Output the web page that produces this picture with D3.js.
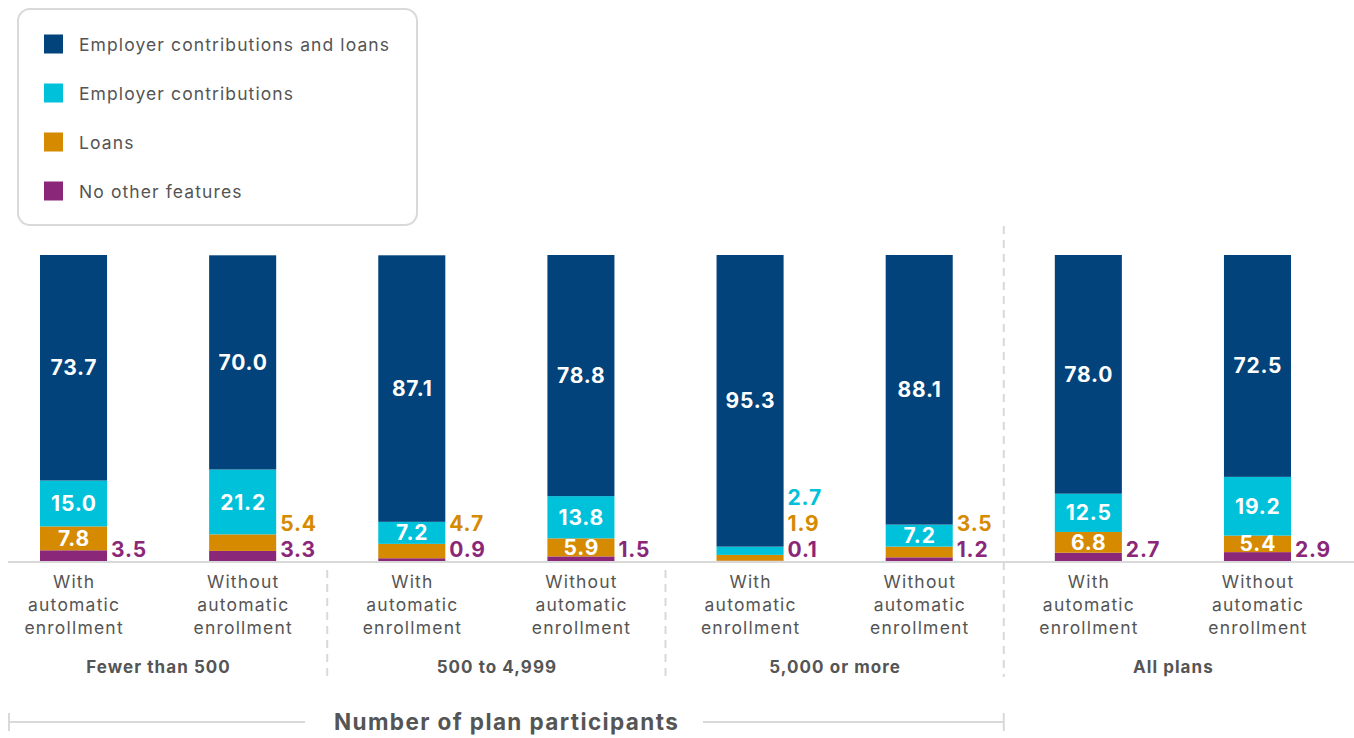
<!DOCTYPE html>
<html>
<head>
<meta charset="utf-8">
<script src="https://cdn.jsdelivr.net/npm/d3@7"></script>
<style>
  body { margin: 0; background: #fff; }
  svg { font-family: Inter, "Open Sans", sans-serif; }
</style>
</head>
<body>
<script>
// groups of plan size, and the two bars in each group
var groups = ["Fewer than 500", "500 to 4,999", "5,000 or more", "All plans"];
var subLabels = [["With", "automatic", "enrollment"], ["Without", "automatic", "enrollment"]];

// series values, one per bar (group x with/without)
var ecLoans = [73.7, 70.0, 87.1, 78.8, 95.3, 88.1, 78.0, 72.5];
var ec      = [15.0, 21.2, 7.2, 13.8, 2.7, 7.2, 12.5, 19.2];
var loans   = [7.8, 5.4, 4.7, 5.9, 1.9, 3.5, 6.8, 5.4];
var none    = [3.5, 3.3, 0.9, 1.5, 0.1, 1.2, 2.7, 2.9];

// labels written beside the bar instead of inside it
var outside = [["none"], ["none", "loans"], ["none", "loans"], ["none"],
               ["none", "loans", "ec"], ["none", "loans"], ["none"], ["none"]];

var seriesNames = {
  ecLoans: "Employer contributions and loans",
  ec: "Employer contributions",
  loans: "Loans",
  none: "No other features"
};
var colors = { ecLoans: "#01437a", ec: "#00c1da", loans: "#d58a00", none: "#8b2778" };
var keys = ["none", "loans", "ec", "ecLoans"]; // bottom to top

var width = 1354, height = 738;
var svg = d3.select("body").append("svg")
    .attr("width", width)
    .attr("height", height);

// build rows
var data = [];
groups.forEach(function(g, gi) {
  [0, 1].forEach(function(si) {
    var i = gi * 2 + si;
    data.push({ id: i, group: g, sub: si, ecLoans: ecLoans[i], ec: ec[i], loans: loans[i], none: none[i] });
  });
});

var x = d3.scaleBand()
    .domain(data.map(function(d) { return d.id; }))
    .range([40, 1291])
    .paddingInner(0.6036)
    .paddingOuter(0);

var y = d3.scaleLinear().domain([0, 100]).range([561, 255]);

var stack = d3.stack().keys(keys);
var series = stack(data);

// bars
svg.append("g").selectAll("g")
  .data(series)
  .enter().append("g")
    .attr("fill", function(s) { return colors[s.key]; })
  .selectAll("rect")
  .data(function(s) { return s; })
  .enter().append("rect")
    .attr("x", function(p) { return x(p.data.id); })
    .attr("y", function(p) { return y(p[1]); })
    .attr("width", x.bandwidth())
    .attr("height", function(p) { return y(p[0]) - y(p[1]); });

// inside labels
series.forEach(function(s) {
  s.forEach(function(p) {
    var v = p.data[s.key];
    if (outside[p.data.id].indexOf(s.key) >= 0) return;
    svg.append("text")
      .attr("x", x(p.data.id) + x.bandwidth() / 2 + 0.4)
      .attr("y", (y(p[0]) + y(p[1])) / 2)
      .attr("dy", "0.36em")
      .attr("text-anchor", "middle")
      .attr("fill", "#fff")
      .attr("font-size", 21)
      .attr("font-weight", 700)
      .attr("letter-spacing", 0.8)
      .text(v.toFixed(1));
  });
});

// outside labels, stacked up from the baseline
data.forEach(function(d) {
  outside[d.id].forEach(function(k, j) {
    svg.append("text")
      .attr("x", x(d.id) + x.bandwidth() + 4)
      .attr("y", y(0) - 12 - j * 26)
      .attr("dy", "0.36em")
      .attr("fill", colors[k])
      .attr("font-size", 21)
      .attr("font-weight", 700)
      .attr("letter-spacing", 0.8)
      .text(d[k].toFixed(1));
  });
});

// baseline
svg.append("line")
    .attr("x1", 8).attr("x2", width)
    .attr("y1", y(0) + 1).attr("y2", y(0) + 1)
    .attr("stroke", "#d9d9d9").attr("stroke-width", 2);

// bar labels
data.forEach(function(d) {
  var t = svg.append("text")
      .attr("text-anchor", "middle")
      .attr("fill", "#555")
      .attr("font-size", 17.5)
      .attr("letter-spacing", 1.2);
  subLabels[d.sub].forEach(function(line, li) {
    t.append("tspan")
      .attr("x", x(d.id) + x.bandwidth() / 2 + 0.6)
      .attr("y", 588 + li * 23)
      .text(line);
  });
});

// group labels
groups.forEach(function(g, gi) {
  var cx = (x(gi * 2) + x(gi * 2 + 1) + x.bandwidth()) / 2;
  svg.append("text")
    .attr("x", cx + 0.5)
    .attr("y", 673)
    .attr("text-anchor", "middle")
    .attr("fill", "#555")
    .attr("font-size", 17)
    .attr("font-weight", 700)
    .attr("letter-spacing", 1.05)
    .text(g);
});

// dashed separators between groups
var sepX = [1, 2, 3].map(function(gi) {
  return (x(gi * 2 - 1) + x.bandwidth() + x(gi * 2)) / 2;
});
sepX.forEach(function(sx, i) {
  svg.append("line")
    .attr("x1", sx).attr("x2", sx)
    .attr("y1", i === 2 ? 226 : 570)
    .attr("y2", 677)
    .attr("stroke", "#d9d9d9")
    .attr("stroke-width", 2)
    .attr("stroke-dasharray", "8,6");
});

// axis title with bracket
var bx0 = 8, bx1 = sepX[2], by = 722;
svg.append("line").attr("x1", bx0).attr("x2", 305).attr("y1", by).attr("y2", by)
    .attr("stroke", "#d9d9d9").attr("stroke-width", 2);
svg.append("line").attr("x1", 703).attr("x2", bx1).attr("y1", by).attr("y2", by)
    .attr("stroke", "#d9d9d9").attr("stroke-width", 2);
[bx0 + 1, bx1].forEach(function(ex) {
  svg.append("line").attr("x1", ex).attr("x2", ex).attr("y1", by - 9).attr("y2", by + 9)
    .attr("stroke", "#d9d9d9").attr("stroke-width", 2);
});
svg.append("text")
    .attr("x", (bx0 + bx1) / 2 + 0.7)
    .attr("y", by)
    .attr("dy", "0.36em")
    .attr("text-anchor", "middle")
    .attr("fill", "#555")
    .attr("font-size", 22.5)
    .attr("font-weight", 700)
    .attr("letter-spacing", 1.4)
    .text("Number of plan participants");

// legend
var legend = svg.append("g");
legend.append("rect")
    .attr("x", 18).attr("y", 9)
    .attr("width", 399).attr("height", 216)
    .attr("rx", 12)
    .attr("fill", "#fff")
    .attr("stroke", "#d9d9d9")
    .attr("stroke-width", 2);
keys.slice().reverse().forEach(function(k, i) {
  var ly = 44 + i * 49;
  legend.append("rect")
    .attr("x", 44).attr("y", ly - 9.5)
    .attr("width", 19).attr("height", 19)
    .attr("fill", colors[k]);
  legend.append("text")
    .attr("x", 79).attr("y", ly + 1)
    .attr("dy", "0.36em")
    .attr("fill", "#555")
    .attr("font-size", 17.5)
    .attr("letter-spacing", 1.1)
    .text(seriesNames[k]);
});
</script>
</body>
</html>
